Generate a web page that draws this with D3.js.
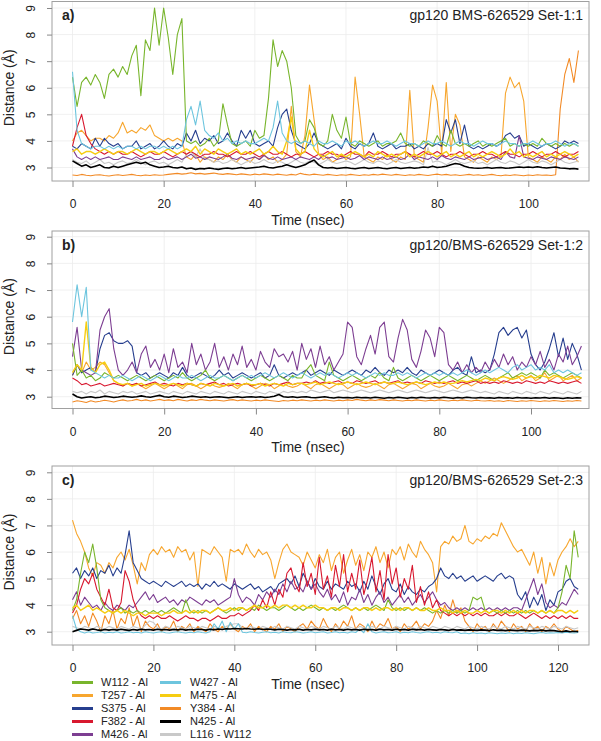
<!DOCTYPE html>
<html><head><meta charset="utf-8">
<script src="https://cdn.jsdelivr.net/npm/d3@7"></script>
<style>
body{margin:0;background:#fff}
svg{display:block}
text{font-family:"Liberation Sans",Arial,Helvetica,sans-serif;fill:#222}
</style>
</head><body>
<svg id="chart" width="601" height="741"></svg>
<script>
// ---------- labels / categories ----------
const seriesNames = ["W112 - Al","T257 - Al","S375 - Al","F382 - Al","M426 - Al","W427 - Al","M475 - Al","Y384 - Al","N425 - Al","L116 - W112"];
const seriesColors = ["#78b52c","#f7a62e","#263e8e","#d8182f","#7d3e92","#6dc5de","#f6cd12","#f28a26","#000000","#c9c9c9"];
const xTicksAB = [0,20,40,60,80,100];
const xTicksC = [0,20,40,60,80,100,120];
const yTicks = [3,4,5,6,7,8,9];
const panelTitles = ["gp120 BMS-626529 Set-1:1","gp120/BMS-626529 Set-1:2","gp120/BMS-626529 Set-2:3"];
const panelLabels = ["a)","b)","c)"];
const xTitle = "Time (nsec)";
const yTitle = "Distance (Å)";
const timeStep = 1; // ns between samples

// ---------- panel a (t = 0..111 ns) ----------
const aW112 = [6.4,5.3,6.2,6.4,6.1,6.5,6.2,5.6,6.5,6.7,
 6.4,6.8,6.5,7.2,7.6,5.7,7.8,7.4,9.0,7.6,
 9.0,7.9,6.5,8.0,8.6,4.0,3.9,4.0,3.8,3.9,
 4.1,3.8,4.0,5.4,4.6,3.9,3.8,3.9,4.0,3.8,
 4.4,4.1,4.2,5.6,7.8,6.8,7.4,7.0,6.0,4.2,
 3.9,4.0,4.8,4.5,3.9,3.8,4.0,5.0,4.4,4.1,
 4.9,3.9,3.8,4.0,3.9,3.8,3.9,4.0,3.8,3.9,
 3.9,4.0,4.3,3.9,3.8,3.9,3.8,4.0,3.9,3.8,
 4.2,3.9,3.8,4.4,3.9,3.8,3.9,3.8,3.9,4.0,
 3.8,3.9,3.8,3.9,4.0,4.1,3.8,3.9,3.8,3.9,
 3.8,3.9,3.8,4.1,3.9,3.8,3.9,3.8,3.9,3.8,3.9,3.8];
const aT257 = [4.0,4.3,4.4,4.2,4.0,4.1,4.1,4.0,4.2,4.1,
 4.3,4.7,4.3,4.4,4.3,4.5,4.4,4.6,4.2,4.1,
 4.0,4.1,4.0,4.1,4.0,3.4,3.3,3.5,3.2,3.4,
 3.3,3.2,3.4,3.3,3.5,3.3,3.2,3.4,3.3,3.2,
 3.4,3.3,3.5,3.3,3.4,3.2,3.3,3.5,5.3,3.6,
 3.4,4.2,6.1,4.8,3.5,3.3,3.4,3.2,3.3,3.5,
 3.3,3.4,6.4,5.0,3.4,3.3,3.2,3.4,3.3,3.5,
 3.3,3.2,3.4,3.3,5.9,3.4,3.3,3.2,4.5,6.1,
 5.5,3.5,6.2,3.6,5.0,4.6,3.4,3.3,3.2,3.4,
 3.3,3.2,3.4,3.3,3.4,5.8,6.4,6.0,6.2,5.5,
 3.4,3.3,3.2,3.4,3.3,3.2,3.4,3.3,3.5,3.3,3.4,3.2];
const aS375 = [3.8,3.7,3.9,3.8,3.7,4.1,3.8,4.1,3.9,3.8,
 3.9,3.7,3.8,3.8,4.0,3.7,3.8,3.9,3.7,3.8,
 4.0,3.8,3.7,3.9,3.8,4.3,4.0,4.4,3.9,4.1,
 4.0,4.2,3.9,4.0,4.3,4.0,3.8,4.4,4.1,4.4,
 3.9,3.8,3.9,4.0,3.8,4.5,5.0,5.2,4.4,3.9,
 3.8,3.7,3.9,4.3,3.9,3.8,3.7,3.8,3.9,3.7,
 4.1,3.8,3.7,3.9,3.8,3.9,4.3,3.8,3.7,3.8,
 3.9,3.7,3.8,3.8,3.9,3.7,3.8,3.7,3.9,3.8,
 3.9,3.8,4.8,4.3,4.8,3.9,4.6,3.8,3.7,3.8,
 3.7,3.8,3.9,3.8,3.9,4.2,4.3,4.1,4.2,3.8,
 3.9,3.8,3.7,3.8,3.9,3.8,3.7,3.8,4.0,3.9,4.0,3.9];
const aF382 = [3.8,4.5,5.0,4.2,3.9,3.7,3.6,3.5,3.6,3.5,
 3.6,3.5,3.5,3.6,3.5,3.4,3.5,3.6,3.5,3.5,
 3.6,3.5,3.4,3.5,3.6,3.5,3.6,3.5,3.4,3.5,
 3.5,3.6,3.5,3.5,3.4,3.5,3.6,3.5,3.5,3.6,
 3.5,3.4,3.5,3.6,3.5,3.5,3.6,3.5,3.4,3.5,
 3.5,3.6,3.5,3.4,3.5,3.5,3.6,3.5,3.5,3.4,
 3.5,3.6,3.5,3.5,3.4,3.6,3.5,3.5,3.6,3.5,
 3.4,3.5,3.5,3.6,3.5,3.4,3.5,3.6,3.5,3.5,
 3.6,3.5,3.4,3.5,3.5,3.6,3.5,3.4,3.5,3.5,
 3.6,3.5,3.5,3.4,3.5,3.6,3.5,3.5,3.4,3.5,
 3.5,3.6,3.5,3.4,3.5,3.5,3.6,3.5,3.4,3.5,3.5,3.6];
const aM426 = [3.7,3.4,3.3,3.4,3.3,3.4,3.3,3.35,3.4,3.3,
 3.3,3.4,3.35,3.3,3.4,3.3,3.35,3.4,3.3,3.3,
 3.4,3.3,3.35,3.4,3.3,3.4,3.5,3.35,3.4,3.3,
 3.4,3.35,3.3,3.4,3.5,3.35,3.3,3.4,3.3,3.35,
 3.4,3.3,3.45,3.35,3.3,3.4,3.3,3.35,3.4,3.3,
 3.4,3.35,3.3,3.4,3.3,3.45,3.35,3.4,3.3,3.35,
 3.4,3.3,3.35,3.45,3.3,3.4,3.35,3.3,3.4,3.3,
 3.35,3.4,3.3,3.35,3.5,3.3,3.4,3.35,3.3,3.4,
 3.3,3.45,3.35,3.3,3.4,3.35,3.3,3.4,3.3,3.35,
 3.4,3.3,3.35,3.4,3.3,3.6,3.4,3.35,4.2,3.4,
 3.35,3.3,3.4,3.35,3.3,3.4,3.35,3.3,3.4,3.35,3.3,3.4];
const aW427 = [6.6,4.4,3.9,3.8,3.7,3.8,3.8,3.7,3.8,3.7,
 3.8,3.7,3.8,3.8,3.7,3.8,3.7,3.8,3.8,3.7,
 3.8,3.7,3.8,3.7,3.8,4.8,5.3,4.6,5.5,4.4,
 4.2,4.1,4.3,4.0,4.1,3.9,4.0,3.9,4.0,3.9,
 3.9,4.0,4.1,4.0,4.5,5.5,4.3,4.0,3.9,4.0,
 3.9,4.0,3.9,3.8,4.0,3.9,3.9,4.0,3.9,3.8,
 4.0,3.9,4.0,3.9,3.8,3.9,4.0,3.9,3.9,4.0,
 3.9,3.8,3.9,4.0,3.9,3.9,3.8,3.9,4.0,3.9,
 3.9,4.0,3.9,3.8,3.9,4.0,3.9,3.9,3.8,3.9,
 4.0,3.9,3.9,3.8,3.9,4.0,3.9,3.9,3.8,3.9,
 3.9,4.0,3.9,3.8,3.9,3.9,4.0,3.9,3.8,3.9,3.9,3.8];
const aM475 = [3.6,3.7,3.5,3.6,3.6,3.5,3.6,3.7,3.6,3.5,
 3.6,3.6,3.5,3.6,3.7,3.6,3.5,3.6,3.6,3.5,
 3.6,3.7,3.6,3.5,3.6,3.7,3.6,3.8,3.5,3.7,
 3.6,3.5,3.7,3.6,3.5,3.6,3.7,3.5,3.6,3.5,
 3.6,3.7,3.5,3.6,3.8,3.6,3.5,4.0,4.9,3.7,
 3.5,3.6,4.4,3.7,3.5,3.4,3.5,3.6,3.4,3.5,
 3.4,3.5,3.6,3.5,3.4,3.5,3.4,3.6,3.5,3.4,
 3.5,3.4,3.5,3.6,3.4,3.5,3.4,3.5,3.6,3.5,
 3.4,3.5,3.6,3.4,3.5,3.4,3.5,3.6,3.4,3.5,
 3.4,3.5,3.6,3.5,3.4,3.5,3.7,3.5,3.6,3.4,
 3.5,3.4,3.5,3.6,3.4,3.5,3.4,3.5,3.6,3.5,3.4,3.5];
const aY384 = [2.72,2.70,2.74,2.71,2.69,2.72,2.73,2.70,2.68,2.71,
 2.73,2.70,2.72,2.74,2.71,2.69,2.72,2.70,2.73,2.71,
 2.72,2.74,2.76,2.78,2.75,2.77,2.80,2.76,2.78,2.75,
 2.77,2.79,2.76,2.74,2.77,2.75,2.73,2.76,2.74,2.72,
 2.75,2.73,2.76,2.74,2.72,2.75,2.73,2.71,2.74,2.72,
 2.78,2.74,2.72,2.75,2.73,2.71,2.74,2.72,2.70,2.73,
 2.71,2.74,2.72,2.70,2.73,2.71,2.74,2.72,2.75,2.73,
 2.71,2.74,2.72,2.70,2.73,2.71,2.74,2.72,2.70,2.73,
 2.75,2.72,2.74,2.71,2.73,2.70,2.72,2.74,2.71,2.73,
 2.70,2.72,2.74,2.71,2.69,2.72,2.70,2.73,2.71,2.69,
 2.72,2.70,2.73,2.71,2.72,2.70,2.73,5.2,6.5,7.1,6.2,7.4];
const aN425 = [3.25,3.15,3.05,3.1,3.0,3.05,3.1,3.0,2.98,3.05,
 3.0,3.05,3.1,3.15,3.2,3.15,3.2,3.1,3.05,3.0,
 3.02,3.05,3.0,2.98,3.02,2.95,2.98,2.93,2.96,2.95,
 2.98,2.95,2.93,2.96,2.98,2.95,2.97,3.0,2.96,2.98,
 3.0,3.02,3.05,3.0,2.98,3.02,3.05,3.1,3.05,3.0,
 3.05,3.1,3.2,3.28,3.1,3.0,2.98,3.0,2.96,2.98,
 3.0,2.97,2.95,2.98,3.0,2.96,2.98,3.0,2.97,2.95,
 2.98,3.0,2.96,2.98,3.0,2.97,2.99,3.02,3.0,3.05,
 3.0,3.02,3.05,3.1,3.15,3.12,3.05,3.0,2.98,2.97,
 2.98,3.0,2.97,2.99,3.0,2.97,2.98,3.0,3.02,3.0,
 3.02,3.0,3.03,3.0,2.98,3.0,3.02,2.98,2.97,2.95,2.96,2.94];
const aL116 = [3.3,3.2,3.15,3.25,3.1,3.2,3.3,3.15,3.2,3.1,
 3.2,3.25,3.15,3.2,3.3,3.2,3.1,3.2,3.25,3.15,
 3.2,3.1,3.2,3.3,3.2,3.5,3.6,3.4,3.7,3.3,
 3.3,3.2,3.25,3.15,3.2,3.3,3.2,3.1,3.2,3.25,
 3.15,3.2,3.3,3.2,3.15,3.25,3.2,3.1,3.2,3.3,
 3.2,3.15,3.25,3.2,3.1,3.2,3.3,3.2,3.15,3.2,
 3.25,3.2,3.1,3.2,3.3,3.2,3.15,3.25,3.2,3.1,
 3.2,3.3,3.2,3.15,3.2,3.25,3.2,3.1,3.75,3.2,
 3.25,3.2,3.1,3.2,3.3,3.2,3.15,3.2,3.25,3.15,
 3.2,3.1,3.2,3.3,3.2,3.15,3.25,3.2,3.1,3.2,
 3.3,3.2,3.15,3.25,3.2,3.1,3.2,3.3,3.2,3.15,3.2,3.25];

// ---------- panel b (t = 0..111 ns) ----------
const bW112 = [5.0,3.8,4.0,3.7,3.8,3.6,3.7,3.9,3.8,3.7,
 3.8,3.7,3.6,3.7,3.8,3.7,3.6,3.7,3.8,3.7,
 3.6,3.7,3.8,3.7,3.9,3.7,3.6,3.7,3.8,4.0,
 3.7,3.6,3.7,3.8,3.7,3.6,3.7,3.8,3.7,3.6,
 3.7,3.8,3.7,3.6,3.7,3.8,3.7,3.6,3.8,3.7,
 3.7,4.0,4.2,3.8,3.7,3.6,4.3,3.8,3.7,3.6,
 3.7,3.8,3.7,3.6,3.7,3.8,3.7,3.9,3.7,3.6,
 4.1,3.7,3.6,3.7,3.8,3.7,3.6,3.7,3.8,3.7,
 3.6,3.7,3.8,3.7,3.6,3.7,3.8,3.7,3.6,3.7,
 3.8,3.7,3.6,3.7,3.8,3.9,3.7,3.8,3.9,3.8,
 3.9,3.8,3.7,4.0,3.8,3.9,3.8,3.7,3.8,3.9,3.8,3.7];
const bT257 = [3.8,4.2,3.9,4.3,4.0,4.1,4.3,4.2,3.9,3.6,
 3.5,3.4,3.5,3.4,3.5,3.4,3.3,3.4,3.5,3.4,
 3.3,3.4,3.5,3.4,3.3,3.45,3.5,3.4,3.3,3.4,
 3.5,3.4,3.35,3.4,3.5,3.4,3.3,3.45,3.5,3.4,
 3.3,3.4,3.5,3.45,3.3,3.4,3.5,3.4,3.35,3.4,
 3.5,3.4,3.3,3.45,3.5,3.4,3.3,3.4,3.5,3.45,
 3.3,3.4,3.5,3.4,3.35,3.4,3.5,3.4,3.3,3.45,
 3.5,3.4,3.3,3.4,3.5,3.45,3.3,3.4,3.5,3.4,
 3.35,3.4,3.5,3.4,3.3,3.45,3.5,3.4,3.5,3.6,
 3.5,3.6,3.7,3.6,3.5,3.6,3.7,3.8,3.6,3.7,
 3.8,3.6,3.7,3.9,3.6,3.7,3.8,3.6,3.7,3.8,3.6,3.7];
const bS375 = [3.8,4.2,3.9,4.0,4.1,3.9,4.8,5.3,5.4,5.1,
 5.0,5.0,5.1,4.9,3.9,3.8,3.9,3.7,3.8,3.9,
 3.8,3.7,3.9,3.8,4.1,3.8,3.7,3.8,3.9,3.8,
 3.7,3.8,4.0,3.8,3.9,3.7,3.8,3.9,3.8,3.7,
 3.8,3.9,3.7,3.8,4.2,3.8,3.7,3.8,3.9,3.8,
 3.9,4.0,3.8,3.9,4.0,3.9,3.8,4.0,3.9,3.8,
 3.9,4.0,3.9,3.8,4.0,3.9,4.1,3.9,3.8,4.0,
 3.9,4.0,3.9,4.1,3.9,3.8,4.0,3.9,3.8,3.9,
 4.0,3.9,3.8,4.0,4.1,3.9,3.8,4.5,3.9,4.0,
 3.9,4.0,4.6,5.4,5.6,5.3,5.5,5.6,5.2,5.5,
 4.6,4.2,4.0,4.3,4.8,5.4,4.5,5.2,4.4,5.0,4.6,4.0];
const bF382 = [3.7,3.6,3.45,3.5,3.4,3.45,3.5,3.4,3.45,3.5,
 3.45,3.4,3.5,3.45,3.5,3.4,3.45,3.5,3.55,3.45,
 3.5,3.45,3.4,3.5,3.45,3.5,3.45,3.4,3.5,3.45,
 3.5,3.55,3.45,3.5,3.4,3.45,3.5,3.45,3.5,3.4,
 3.45,3.5,3.45,3.4,3.5,3.45,3.5,3.55,3.45,3.5,
 3.5,3.55,3.5,3.6,3.5,3.55,3.5,3.55,3.6,3.5,
 3.55,3.5,3.6,3.55,3.5,3.55,3.6,3.5,3.55,3.5,
 3.55,3.6,3.5,3.55,3.5,3.55,3.5,3.6,3.55,3.5,
 3.55,3.5,3.55,3.6,3.5,3.55,3.5,3.55,3.6,3.5,
 3.55,3.5,3.55,3.5,3.6,3.55,3.5,3.55,3.5,3.6,
 3.55,3.5,3.55,3.5,3.6,3.55,3.5,3.55,3.5,3.55,3.6,3.5];
const bM426 = [4.5,5.6,4.0,3.9,3.8,3.9,5.5,6.0,6.3,4.8,
 4.0,3.8,4.0,4.3,3.9,4.6,4.9,4.1,4.4,4.0,
 4.6,3.9,4.8,4.1,4.3,3.9,5.0,4.2,4.6,4.0,
 4.3,5.0,4.1,4.5,4.0,4.6,4.2,4.9,4.1,4.4,
 4.0,4.7,4.3,4.1,4.8,4.5,4.6,4.3,4.7,4.0,
 5.0,4.4,4.8,4.1,4.9,4.2,4.5,4.0,4.3,4.6,
 5.8,5.6,4.5,4.2,4.8,5.3,4.6,5.6,5.8,4.5,
 4.3,5.2,5.9,5.5,4.4,4.1,4.7,5.5,5.2,4.5,
 5.6,5.4,4.2,4.0,4.3,3.9,4.2,3.9,4.1,3.9,
 4.3,4.0,4.4,4.1,4.6,4.2,4.5,4.0,4.3,4.1,
 4.5,4.2,4.7,4.1,4.4,4.0,4.6,4.3,4.9,4.2,4.5,4.9];
const bW427 = [5.8,7.2,6.0,7.1,4.0,3.9,3.8,3.7,3.8,3.7,
 3.7,3.8,3.7,3.6,3.7,3.8,3.7,3.6,3.7,3.8,
 3.7,3.6,3.7,3.8,3.7,3.7,3.8,3.7,3.6,3.7,
 3.8,3.7,3.7,3.8,3.7,3.6,3.7,3.8,3.7,3.8,
 3.7,3.8,3.9,3.8,3.7,3.8,3.9,3.8,3.7,3.8,
 3.9,3.8,3.7,3.8,3.9,3.8,3.9,3.8,3.7,3.8,
 3.9,3.8,3.9,3.8,3.7,3.8,3.9,3.8,3.9,3.8,
 3.8,3.9,3.8,3.9,3.8,3.7,3.8,3.9,3.8,3.9,
 3.8,3.9,3.8,3.9,3.8,3.9,4.0,3.9,3.8,3.9,
 4.0,3.9,4.0,4.1,4.0,3.9,4.1,4.2,4.0,4.1,
 4.2,4.0,4.1,4.0,4.2,3.9,4.0,3.9,4.0,3.9,3.8,3.9];
const bM475 = [3.9,4.2,4.0,5.8,4.1,3.9,4.2,4.3,4.0,3.6,
 3.5,3.45,3.5,3.4,3.45,3.5,3.4,3.45,3.5,3.45,
 3.4,3.45,3.5,3.45,3.4,3.5,3.45,3.4,3.5,3.45,
 3.4,3.5,3.45,3.4,3.45,3.5,3.4,3.45,3.5,3.45,
 3.45,3.5,3.4,3.45,3.5,3.45,3.4,3.5,3.45,3.5,
 3.5,3.45,3.5,3.55,3.45,3.5,3.55,3.5,3.45,3.5,
 3.55,3.5,3.45,3.5,3.55,3.5,3.45,3.5,3.55,3.5,
 3.5,3.55,3.5,3.45,3.5,3.55,3.5,3.45,3.5,3.55,
 3.5,3.55,3.5,3.5,3.55,3.6,3.55,3.6,3.65,3.6,
 3.7,3.65,3.6,3.7,3.75,3.7,3.65,3.7,3.8,3.7,
 3.75,3.7,3.8,3.75,3.7,3.8,3.75,3.7,3.65,3.7,3.75,3.7];
const bY384 = [2.8,2.85,2.82,2.78,2.85,2.8,2.83,2.87,2.84,2.8,
 2.85,2.88,2.84,2.86,2.9,2.85,2.88,2.84,2.87,2.9,
 2.86,2.88,2.85,2.9,2.87,2.84,2.88,2.86,2.9,2.87,
 2.85,2.88,2.86,2.84,2.87,2.89,2.85,2.88,2.86,2.84,
 2.87,2.85,2.88,2.86,2.84,2.82,2.86,2.84,2.87,2.85,
 2.88,2.86,2.84,2.87,2.85,2.88,2.86,2.84,2.87,2.85,
 2.88,2.86,2.9,2.87,2.85,2.88,2.86,2.89,2.87,2.85,
 2.88,2.86,2.84,2.87,2.85,2.88,2.86,2.84,2.87,2.85,
 2.88,2.86,2.84,2.87,2.85,2.88,2.86,2.84,2.87,2.85,
 2.84,2.86,2.83,2.85,2.82,2.86,2.84,2.82,2.85,2.83,
 2.86,2.84,2.82,2.85,2.83,2.86,2.84,2.82,2.85,2.83,2.86,2.84];
const bN425 = [3.1,3.0,2.95,2.98,3.0,2.96,2.98,3.02,3.0,2.97,
 2.99,3.02,3.0,2.98,3.0,3.03,3.0,2.98,3.02,3.05,
 3.0,2.98,3.02,3.0,2.97,2.99,3.02,3.0,2.98,3.0,
 2.97,2.99,3.0,2.98,2.96,2.98,3.0,2.97,2.99,3.0,
 2.98,3.0,2.97,2.99,3.02,3.08,3.0,2.98,3.0,2.97,
 2.99,3.0,2.97,2.96,2.98,3.0,2.97,2.95,2.98,2.96,
 2.97,2.95,2.98,2.96,2.97,2.95,2.98,2.96,2.94,2.97,
 2.95,2.98,2.96,2.94,2.97,2.95,2.98,2.96,2.95,2.97,
 2.95,2.98,2.96,2.94,2.97,2.95,2.98,2.96,2.95,2.97,
 2.95,2.96,2.94,2.97,2.95,2.96,2.94,2.97,2.95,2.96,
 2.94,2.96,2.95,2.97,2.94,2.96,2.95,2.93,2.96,2.94,2.96,2.95];
const bL116 = [3.2,3.15,3.2,3.1,3.2,3.15,3.25,3.1,3.2,3.15,
 3.1,3.2,3.15,3.2,3.1,3.15,3.2,3.1,3.15,3.2,
 3.15,3.1,3.2,3.15,3.1,3.2,3.15,3.1,3.2,3.15,
 3.1,3.2,3.15,3.1,3.2,3.15,3.1,3.2,3.15,3.1,
 3.2,3.15,3.1,3.2,3.15,3.1,3.2,3.15,3.2,3.15,
 3.2,3.15,3.25,3.2,3.15,3.2,3.25,3.15,3.2,3.25,
 3.2,3.15,3.2,3.25,3.2,3.15,3.2,3.25,3.2,3.15,
 3.2,3.25,3.2,3.15,3.2,3.25,3.2,3.15,3.2,3.25,
 3.2,3.15,3.2,3.25,3.2,3.15,3.2,3.25,3.2,3.15,
 3.2,3.15,3.1,3.2,3.15,3.1,3.2,3.15,3.1,3.2,
 3.15,3.1,3.2,3.15,3.1,3.2,3.15,3.1,3.2,3.15,3.1,3.2];

// ---------- panel c (t = 0..125 ns) ----------
const cW112 = [3.8,4.2,5.2,6.0,5.6,6.3,5.4,4.2,3.9,3.8,
 3.7,3.8,3.9,3.7,3.8,3.7,3.8,3.7,3.8,3.7,
 3.8,3.7,3.8,3.7,3.8,3.9,3.8,3.7,4.2,3.8,
 3.7,3.8,3.7,3.8,3.7,3.8,3.9,3.8,3.7,3.8,
 3.9,3.8,3.9,3.8,3.9,3.8,4.0,3.9,3.8,3.9,
 3.9,3.8,3.9,4.0,3.9,3.8,3.9,3.8,3.9,4.0,
 3.9,3.8,3.9,3.8,3.9,3.8,3.9,4.0,3.9,3.8,
 3.9,3.8,3.9,3.8,3.9,4.0,3.9,3.8,4.2,3.9,
 3.8,3.9,3.8,3.9,3.8,3.9,3.8,3.9,3.8,3.7,
 3.8,3.7,3.8,3.7,3.8,3.7,3.8,3.7,3.8,4.3,
 4.2,4.3,3.8,3.7,3.8,3.7,3.8,3.7,3.8,3.7,
 3.8,3.7,3.8,3.7,3.8,3.7,3.8,3.7,3.8,3.7,
 3.9,4.5,5.5,5.0,6.8,5.8];
const cT257 = [7.2,6.7,6.4,6.0,5.4,5.1,5.6,5.5,5.2,5.6,
 5.4,5.8,6.0,5.7,6.1,5.5,4.8,5.6,5.3,5.9,
 6.1,5.9,6.2,6.0,6.1,5.8,6.2,6.0,6.1,5.7,
 6.0,4.7,6.1,6.0,5.9,6.2,6.0,5.8,4.9,6.1,
 6.0,6.1,5.9,6.3,6.0,5.8,6.1,5.9,6.0,5.7,
 5.0,5.6,6.1,6.3,6.0,5.9,5.8,5.5,6.0,5.7,
 5.4,5.9,5.6,6.1,5.3,5.8,6.0,5.2,5.7,6.1,
 5.5,5.9,5.3,6.0,5.8,6.2,5.6,6.0,5.4,6.1,
 5.9,6.2,5.7,6.3,6.0,5.8,6.4,6.1,5.9,5.6,
 4.5,6.2,6.4,6.3,6.6,6.4,6.5,7.0,6.4,6.3,
 6.5,6.4,6.6,6.5,6.7,6.6,7.1,6.8,6.5,6.2,
 6.0,6.1,5.8,5.5,6.0,5.2,5.8,4.8,5.6,5.1,
 5.7,6.0,6.2,6.5,6.2,6.4];
const cS375 = [5.2,5.4,5.0,5.3,5.1,5.4,5.0,5.3,5.2,5.5,
 5.1,5.4,5.2,5.9,6.8,5.6,5.3,5.0,4.9,4.8,
 4.9,4.8,4.7,4.9,4.8,4.7,4.8,4.9,4.7,4.8,
 4.7,4.8,4.6,4.8,4.7,4.9,4.7,4.8,4.7,4.6,
 4.8,4.7,4.6,4.7,4.8,4.6,4.7,4.5,4.6,4.7,
 4.5,4.8,4.9,5.0,4.8,5.1,4.7,5.2,4.9,4.6,
 5.0,4.7,4.6,4.9,4.6,4.8,4.7,4.6,4.9,4.7,
 4.8,4.5,4.9,4.6,5.1,4.7,4.4,4.8,5.0,4.6,
 4.5,4.8,4.4,4.7,4.5,4.4,4.6,4.5,4.7,4.8,
 5.0,5.4,5.1,5.0,5.2,5.0,5.1,4.9,5.0,5.1,
 4.9,5.0,5.1,5.0,4.9,5.1,5.2,5.0,5.1,5.0,
 4.4,4.2,4.5,3.9,4.3,4.0,4.4,3.8,4.2,4.0,
 4.5,4.6,4.9,5.0,4.7,4.6];
const cF382 = [3.7,4.0,4.6,5.0,4.8,5.2,4.6,4.3,4.0,4.6,
 3.9,3.8,4.1,5.3,4.9,4.2,3.8,3.6,3.5,3.6,
 3.5,3.6,3.5,3.5,3.6,3.5,3.4,3.5,3.6,3.5,
 3.5,3.4,3.5,3.5,3.4,3.5,3.6,3.5,3.5,3.6,
 3.6,3.7,3.6,3.7,3.8,4.0,3.8,4.2,3.9,4.5,
 4.0,4.6,4.3,5.2,5.4,4.8,4.5,5.6,4.7,5.2,
 4.4,5.8,4.6,5.1,4.3,5.5,4.7,5.9,4.5,5.2,
 4.6,5.7,4.4,5.0,5.8,4.5,5.3,4.2,5.9,4.8,
 5.4,4.3,5.0,4.6,5.5,4.1,4.7,4.0,4.5,3.9,
 4.2,3.8,3.7,3.6,3.7,3.6,3.7,3.6,3.7,3.6,
 3.7,3.6,3.7,3.6,3.6,3.7,3.6,3.7,3.6,3.6,
 3.7,3.6,3.5,3.6,3.7,3.6,3.5,3.6,3.5,3.6,
 3.5,3.6,3.5,3.6,3.5,3.5];
const cM426 = [4.2,4.5,4.0,4.3,4.1,3.9,4.0,3.8,4.1,3.9,
 3.8,4.0,3.9,3.8,4.0,3.9,4.1,4.3,4.5,4.2,
 4.4,4.1,4.2,4.3,4.1,4.2,4.0,4.2,4.1,4.3,
 4.2,4.1,4.0,4.2,4.1,4.2,4.0,4.1,4.2,4.3,
 5.0,4.4,4.1,4.3,4.2,4.0,4.4,4.2,4.5,4.3,
 4.6,4.4,4.8,4.5,4.9,4.6,4.7,4.5,4.9,4.6,
 4.8,4.5,4.3,4.6,4.2,4.4,4.1,4.5,4.0,4.3,
 4.2,4.6,4.1,4.4,4.0,4.3,4.5,4.1,4.3,4.0,
 4.2,4.4,4.1,4.3,4.0,4.2,4.4,4.1,4.3,4.5,
 4.2,4.0,4.1,3.9,3.8,3.9,3.8,3.9,3.8,3.9,
 3.8,3.9,3.8,3.9,3.8,3.9,3.8,3.9,3.8,3.9,
 3.9,3.8,4.2,4.6,5.0,4.4,4.8,4.1,3.9,4.0,
 3.9,4.1,4.0,4.3,4.6,4.4];
const cW427 = [3.6,3.1,3.0,2.95,3.0,2.95,2.97,3.0,2.95,2.98,
 2.96,3.0,2.95,2.97,3.0,2.96,2.98,2.95,3.0,2.97,
 2.95,2.98,3.0,2.96,2.95,2.98,3.0,2.97,2.95,2.98,
 2.96,3.0,2.97,2.95,3.0,3.3,3.1,3.4,3.0,3.35,
 3.1,3.3,2.98,2.96,3.0,2.97,2.95,2.98,3.0,2.96,
 2.98,2.95,3.0,2.97,2.96,3.0,2.98,2.95,2.97,3.0,
 2.96,2.98,3.0,2.95,2.97,3.0,2.96,2.98,2.95,3.0,
 2.97,3.1,2.96,3.3,3.0,2.95,2.98,3.0,2.96,2.97,
 3.0,2.95,2.98,2.96,3.0,2.97,2.95,2.98,3.0,2.96,
 2.98,2.95,3.0,2.97,2.96,3.0,2.93,2.95,2.92,2.96,
 2.93,2.95,2.92,2.96,2.94,2.92,2.95,2.93,2.96,2.92,
 2.95,2.93,2.96,2.94,2.92,2.95,2.97,2.94,2.96,2.95,
 2.97,2.95,2.98,2.96,2.95,2.97];
const cM475 = [3.9,4.0,3.8,3.9,4.0,3.8,3.9,3.8,3.7,3.8,
 3.7,3.8,3.7,3.8,3.7,3.6,3.7,3.7,3.6,3.7,
 3.7,3.7,3.6,3.7,3.7,3.8,3.7,3.7,3.8,3.7,
 3.8,3.7,3.8,3.8,3.7,3.8,3.9,3.8,3.8,3.9,
 3.8,3.9,3.9,3.8,3.9,4.0,3.9,3.9,4.0,3.9,
 4.0,3.9,4.0,4.0,3.9,4.0,3.9,4.0,3.9,3.9,
 4.0,3.9,3.9,3.8,3.9,3.9,3.8,3.9,3.9,3.8,
 3.9,3.8,3.9,3.9,3.8,3.9,3.8,3.9,3.9,3.8,
 3.9,3.8,3.9,3.9,3.8,3.9,3.8,3.8,3.9,3.8,
 3.8,3.9,3.8,3.8,3.7,3.8,3.7,3.8,3.7,3.7,
 3.8,3.7,3.8,3.7,3.8,3.8,3.7,3.8,3.7,3.8,
 3.7,3.8,3.7,3.8,3.8,3.7,3.8,3.7,3.8,3.7,
 3.8,3.8,3.7,3.8,3.7,3.8];
const cY384 = [3.5,3.8,3.3,3.6,3.2,3.7,3.4,3.0,3.6,3.3,
 3.8,3.1,3.5,3.3,3.9,3.2,3.6,3.0,3.4,3.2,
 3.1,3.3,3.0,3.2,3.1,3.4,3.0,3.2,3.1,3.3,
 3.0,3.2,3.1,3.0,3.3,3.1,3.0,3.2,3.1,3.3,
 3.1,3.0,3.2,3.1,3.3,3.0,3.2,3.1,3.0,3.2,
 3.1,3.3,3.0,3.2,3.1,3.0,3.2,3.3,3.1,3.4,
 3.2,3.1,3.5,3.2,3.0,3.3,3.1,3.4,3.2,3.6,
 3.1,3.3,3.2,3.0,3.4,3.1,3.3,3.2,3.5,3.1,
 3.2,3.0,3.3,3.1,3.2,3.4,3.1,3.3,3.2,3.4,
 3.8,3.5,4.0,3.6,4.2,3.7,3.9,3.4,3.2,3.0,
 3.3,3.1,3.2,3.0,3.3,3.1,3.4,3.2,3.0,3.3,
 3.1,3.2,3.0,3.3,3.1,3.2,3.0,3.2,3.1,3.3,
 3.1,3.0,3.2,3.1,3.0,3.05];
const cN425 = [3.0,3.05,3.1,3.08,3.06,3.1,3.07,3.05,3.08,3.06,
 3.08,3.06,3.09,3.07,3.05,3.08,3.06,3.09,3.07,3.08,
 3.06,3.09,3.07,3.08,3.06,3.08,3.07,3.09,3.06,3.08,
 3.07,3.09,3.08,3.06,3.09,3.07,3.1,3.08,3.11,3.1,
 3.12,3.11,3.1,3.12,3.1,3.09,3.11,3.08,3.1,3.09,
 3.07,3.09,3.08,3.06,3.08,3.07,3.09,3.06,3.08,3.07,
 3.09,3.07,3.08,3.06,3.09,3.07,3.08,3.06,3.09,3.07,
 3.08,3.06,3.09,3.07,3.08,3.06,3.09,3.07,3.08,3.06,
 3.09,3.07,3.08,3.06,3.09,3.07,3.08,3.06,3.08,3.07,
 3.06,3.08,3.07,3.05,3.08,3.06,3.07,3.05,3.07,3.06,
 3.05,3.07,3.06,3.04,3.07,3.05,3.06,3.04,3.06,3.05,
 3.04,3.06,3.05,3.03,3.05,3.04,3.06,3.03,3.05,3.04,
 3.02,3.0,3.03,3.0,3.02,3.0];
const cL116 = [3.2,3.15,3.1,3.2,3.15,3.1,3.2,3.15,3.1,3.2,
 3.15,3.1,3.2,3.15,3.1,3.2,3.15,3.1,3.25,3.4,
 3.35,3.15,3.1,3.2,3.15,3.1,3.2,3.15,3.1,3.2,
 3.15,3.1,3.2,3.15,3.1,3.2,3.15,3.1,3.2,3.25,
 3.3,3.3,3.15,3.1,3.2,3.15,3.1,3.2,3.15,3.1,
 3.2,3.15,3.1,3.2,3.15,3.1,3.2,3.15,3.1,3.2,
 3.15,3.1,3.2,3.15,3.1,3.2,3.15,3.1,3.2,3.15,
 3.1,3.2,3.15,3.1,3.2,3.15,3.1,3.2,3.15,3.1,
 3.2,3.15,3.1,3.2,3.15,3.1,3.2,3.15,3.1,3.2,
 3.15,3.1,3.2,3.15,3.1,3.2,3.15,3.1,3.2,3.15,
 3.1,3.2,3.15,3.1,3.2,3.15,3.1,3.2,3.15,3.1,
 3.2,3.15,3.1,3.2,3.15,3.1,3.2,3.15,3.1,3.2,
 3.15,3.1,3.2,3.15,3.1,3.15];

// ---------- assemble ----------
const panelData = [
  [aW112,aT257,aS375,aF382,aM426,aW427,aM475,aY384,aN425,aL116],
  [bW112,bT257,bS375,bF382,bM426,bW427,bM475,bY384,bN425,bL116],
  [cW112,cT257,cS375,cF382,cM426,cW427,cM475,cY384,cN425,cL116]
];
// layout (pixels)
const layout = [
  {top:1.5, bottom:181, xd:[0,100], xr:[72.5,528.3], yr:[167.5,8], ticks:xTicksAB},
  {top:231, bottom:408.5, xd:[0,100], xr:[72.5,531], yr:[396.7,236.7], ticks:xTicksAB},
  {top:466, bottom:645, xd:[0,120], xr:[72.5,558], yr:[631.7,472.3], ticks:xTicksC}
];
const boxLeft = 52, boxRight = 589;
const drawOrder = [1,7,9,2,4,3,0,6,5,8];
const widths = [1.1,1.1,1.1,1.1,1.1,1.1,1.4,1.1,1.6,1.1];

const svg = d3.select("#chart");
const defs = svg.append("defs");

layout.forEach((L, p) => {
  const x = d3.scaleLinear().domain(L.xd).range(L.xr);
  const y = d3.scaleLinear().domain([3,9]).range(L.yr);
  const g = svg.append("g");

  // grid
  g.selectAll(".gx").data(L.ticks).join("line")
    .attr("x1", d => x(d)).attr("x2", d => x(d))
    .attr("y1", L.top).attr("y2", L.bottom)
    .attr("stroke", "#ececec").attr("stroke-width", 0.8);
  g.selectAll(".gy").data(yTicks).join("line")
    .attr("x1", boxLeft).attr("x2", boxRight)
    .attr("y1", d => y(d)).attr("y2", d => y(d))
    .attr("stroke", "#ececec").attr("stroke-width", 0.8);

  // clip
  defs.append("clipPath").attr("id", "clip" + p).append("rect")
    .attr("x", boxLeft).attr("y", L.top).attr("width", boxRight - boxLeft).attr("height", L.bottom - L.top);

  const line = d3.line().x((d, i) => x(i * timeStep)).y(d => y(d));
  const lg = g.append("g").attr("clip-path", `url(#clip${p})`);
  drawOrder.forEach(k => {
    lg.append("path").datum(panelData[p][k])
      .attr("d", line)
      .attr("fill", "none")
      .attr("stroke", seriesColors[k])
      .attr("stroke-width", widths[k])
      .attr("stroke-linejoin", "round");
  });

  // box
  g.append("rect").attr("x", boxLeft).attr("y", L.top)
    .attr("width", boxRight - boxLeft).attr("height", L.bottom - L.top)
    .attr("fill", "none").attr("stroke", "#a0a0a0").attr("stroke-width", 1);

  // x axis
  const xa = g.append("g").attr("transform", `translate(0,${L.bottom})`)
    .call(d3.axisBottom(x).tickValues(L.ticks).tickSize(6).tickFormat(d3.format("d")));
  xa.select(".domain").remove();
  xa.selectAll(".tick line").attr("stroke", "#888");
  xa.selectAll(".tick text").attr("y", 23).attr("dy", "0.35em")
    .style("font-size", "12px").style("font-family", '"Liberation Sans",Arial,sans-serif').attr("fill", "#222");

  // y axis
  const ya = g.append("g").attr("transform", `translate(${boxLeft},0)`)
    .call(d3.axisLeft(y).tickValues(yTicks).tickSize(5).tickFormat(d3.format("d")));
  ya.select(".domain").remove();
  ya.selectAll(".tick line").attr("stroke", "#888");
  ya.selectAll(".tick text").attr("transform", "rotate(-90)")
    .attr("x", 0).attr("y", -21).attr("dy", "0.35em")
    .attr("text-anchor", "middle")
    .style("font-size", "12px").style("font-family", '"Liberation Sans",Arial,sans-serif').attr("fill", "#222");

  // axis titles
  g.append("text").attr("x", 308).attr("y", L.bottom + 39).attr("dy", "0.35em")
    .attr("text-anchor", "middle").style("font-size", "14px").text(xTitle);
  const yc = (y(3) + y(9)) / 2;
  g.append("text").attr("transform", `translate(9.5,${yc}) rotate(-90)`).attr("dy", "0.35em")
    .attr("text-anchor", "middle").style("font-size", "14px").text(yTitle);

  // panel label & title
  g.append("text").attr("x", 62).attr("y", L.top + 14).attr("dy", "0.35em")
    .style("font-size", "14px").style("font-weight", "bold").text(panelLabels[p]);
  g.append("text").attr("x", 583).attr("y", L.top + 14).attr("dy", "0.35em")
    .attr("text-anchor", "end").style("font-size", "14px").text(panelTitles[p]);
});

// legend
const legRows = 5, legY0 = 682.5, legDy = 13;
const legCols = [{lx:72, tx:101}, {lx:160, tx:190}];
const leg = svg.append("g");
seriesNames.forEach((name, i) => {
  const c = legCols[Math.floor(i / legRows)];
  const yy = legY0 + (i % legRows) * legDy;
  leg.append("line").attr("x1", c.lx).attr("x2", c.lx + 21).attr("y1", yy).attr("y2", yy)
    .attr("stroke", seriesColors[i]).attr("stroke-width", 3);
  leg.append("text").attr("x", c.tx).attr("y", yy).attr("dy", "0.35em")
    .style("font-size", "11px").text(name);
});
</script>
</body></html>
